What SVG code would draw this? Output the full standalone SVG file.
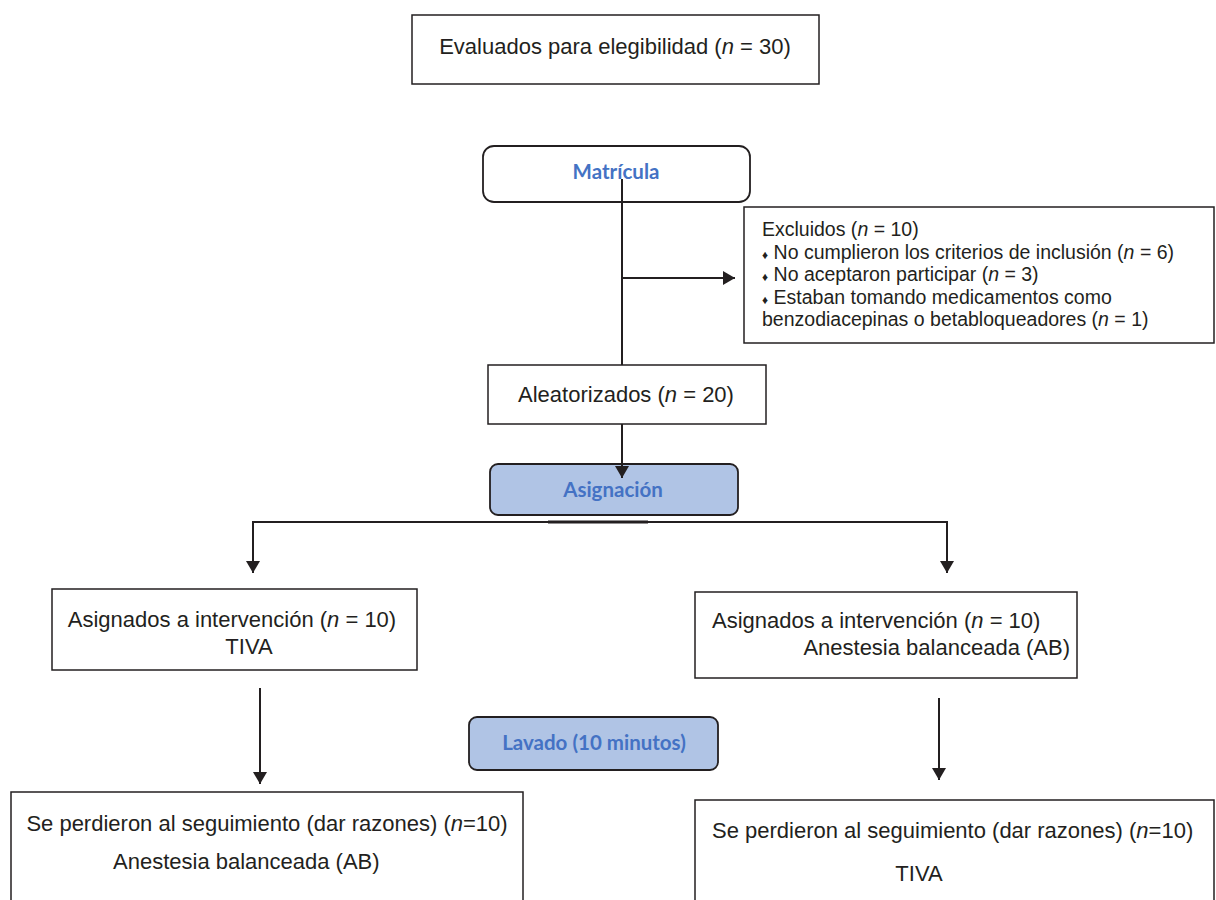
<svg xmlns="http://www.w3.org/2000/svg" width="1216" height="900" viewBox="0 0 1216 900">
<defs>
<marker id="arr" markerWidth="12" markerHeight="14" refX="12" refY="7" orient="auto" markerUnits="userSpaceOnUse">
<path d="M0,0 L12,7 L0,14 Z" fill="#231f20"/>
</marker>
<style>
.box{fill:#fff;stroke:#231f20;stroke-width:1.5}
.rbox{fill:#fff;stroke:#231f20;stroke-width:1.8}
.bbox{fill:#b0c4e5;stroke:#231f20;stroke-width:1.8}
.t{font-family:"Liberation Sans",Arial,sans-serif;font-size:22px;fill:#231f20}
.s{font-family:"Liberation Sans",Arial,sans-serif;font-size:19.5px;fill:#231f20}
.b{font-family:Lato,"Open Sans",sans-serif;font-weight:bold;fill:#4472c4;font-size:20.5px}
.ln{stroke:#231f20;stroke-width:2;fill:none}
</style>
</defs>
<rect width="1216" height="900" fill="#fff"/>
<g id="n-evaluados">
<rect class="box" x="412" y="15" width="407" height="69"/>
<text class="t" x="615" y="54" text-anchor="middle">Evaluados para elegibilidad (<tspan font-style="italic">n</tspan> = 30)</text>
</g>
<g id="n-matricula">
<rect class="rbox" x="483" y="146" width="267" height="56" rx="11"/>
<text class="b" x="616" y="179" text-anchor="middle">Matrícula</text>
</g>
<g id="n-excluidos">
<rect class="box" x="744" y="207" width="470" height="136"/>
<text class="s" x="762" y="236">Excluidos (<tspan font-style="italic">n</tspan> = 10)</text>
<text class="s" x="762" y="259"><tspan font-size="12">♦</tspan> No cumplieron los criterios de inclusión (<tspan font-style="italic">n</tspan> = 6)</text>
<text class="s" x="762" y="281"><tspan font-size="12">♦</tspan> No aceptaron participar (<tspan font-style="italic">n</tspan> = 3)</text>
<text class="s" x="762" y="304"><tspan font-size="12">♦</tspan>  Estaban tomando medicamentos como</text>
<text class="s" x="762" y="326">benzodiacepinas o betabloqueadores (<tspan font-style="italic">n</tspan> = 1)</text>
</g>
<g id="n-aleatorizados">
<rect class="box" x="488" y="365" width="278" height="59"/>
<text class="t" x="626" y="402" text-anchor="middle">Aleatorizados (<tspan font-style="italic">n</tspan> = 20)</text>
</g>
<g id="n-asignacion">
<rect class="bbox" x="490" y="464" width="248" height="51" rx="8"/>
<text class="b" x="613" y="497" text-anchor="middle">Asignación</text>
</g>
<g id="n-tiva">
<rect class="box" x="52" y="589" width="365" height="81"/>
<text class="t" x="232" y="627" text-anchor="middle">Asignados a intervención (<tspan font-style="italic">n</tspan> = 10)</text>
<text class="t" x="249" y="654" text-anchor="middle">TIVA</text>
</g>
<g id="n-ab">
<rect class="box" x="695" y="592" width="382" height="86"/>
<text class="t" x="712" y="628">Asignados a intervención (<tspan font-style="italic">n</tspan> = 10)</text>
<text class="t" x="1070" y="655" text-anchor="end">Anestesia balanceada (AB)</text>
</g>
<g id="n-lavado">
<rect class="bbox" x="469" y="717" width="249" height="53" rx="8"/>
<text class="b" x="594" y="750" text-anchor="middle">Lavado (10 minutos)</text>
</g>
<g id="n-perdidos-izq">
<rect class="box" x="11" y="792" width="512" height="120"/>
<text class="t" x="267" y="831" text-anchor="middle">Se perdieron al seguimiento (dar razones) (<tspan font-style="italic">n</tspan>=10)</text>
<text class="t" x="113" y="869">Anestesia balanceada (AB)</text>
</g>
<g id="n-perdidos-der">
<rect class="box" x="695" y="800" width="519" height="120"/>
<text class="t" x="712" y="838">Se perdieron al seguimiento (dar razones) (<tspan font-style="italic">n</tspan>=10)</text>
<text class="t" x="919" y="881" text-anchor="middle">TIVA</text>
</g>
<g id="connectors">
<line class="ln" x1="622" y1="179" x2="622" y2="365"/>
<line class="ln" x1="622" y1="278" x2="735" y2="278" marker-end="url(#arr)"/>
<line class="ln" x1="622" y1="424" x2="622" y2="478" marker-end="url(#arr)"/>
<polyline class="ln" points="253,560 253,522 947,522 947,560"/>
<line class="ln" x1="253" y1="540" x2="253" y2="573" marker-end="url(#arr)"/>
<line class="ln" x1="947" y1="540" x2="947" y2="573" marker-end="url(#arr)"/>
<line x1="548" y1="522" x2="648" y2="522" stroke="#231f20" stroke-width="3"/>
<line class="ln" x1="260" y1="688" x2="260" y2="784" marker-end="url(#arr)"/>
<line class="ln" x1="939" y1="698" x2="939" y2="780" marker-end="url(#arr)"/>
</g>
</svg>
